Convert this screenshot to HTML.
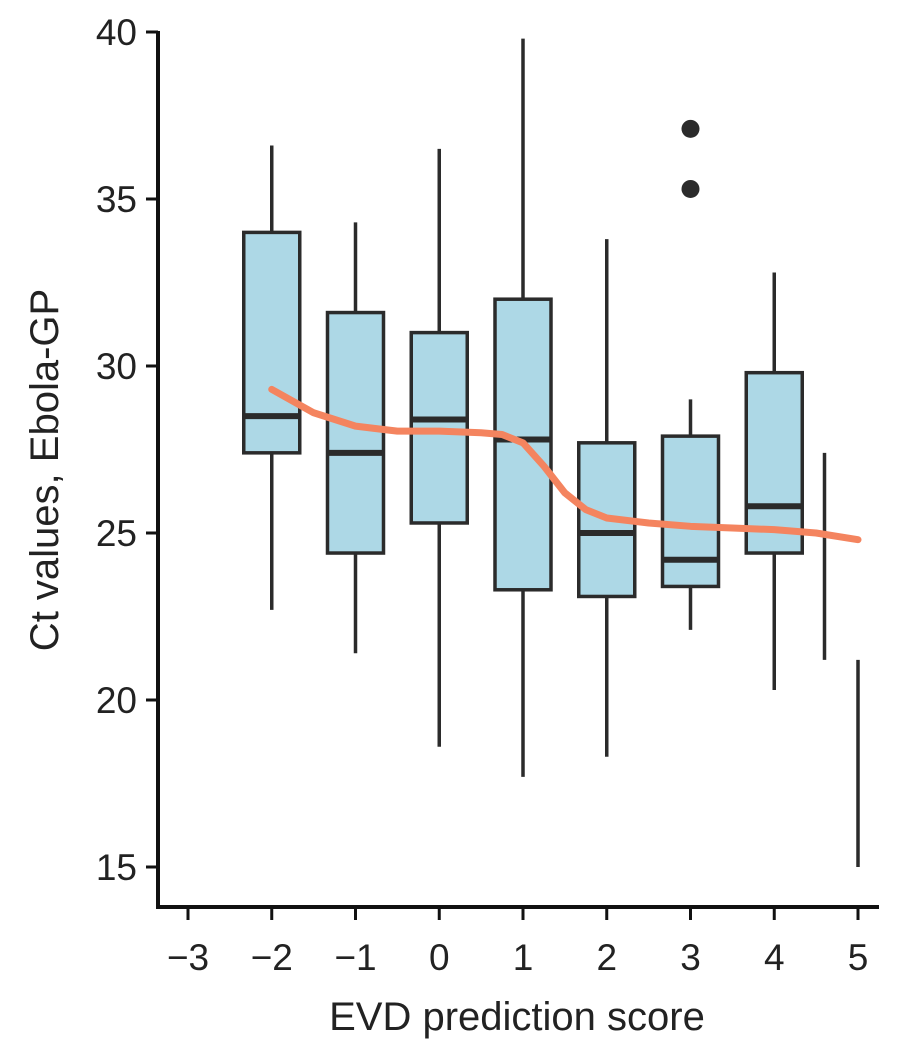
<!DOCTYPE html>
<html><head><meta charset="utf-8"><style>
body{margin:0;background:#fff}
svg text{font-family:"Liberation Sans",sans-serif;fill:#222}
</style></head><body>
<svg id="chart" width="900" height="1049" viewBox="0 0 900 1049" xmlns="http://www.w3.org/2000/svg">
<g id="plot"></g>
</svg>
<script>
const categories=[-2,-1,0,1,2,3,4];
const whiskLow=[22.7,21.4,18.6,17.7,18.3,22.1,20.3];
const q1=[27.4,24.4,25.3,23.3,23.1,23.4,24.4];
const medians=[28.5,27.4,28.4,27.8,25.0,24.2,25.8];
const q3=[34.0,31.6,31.0,32.0,27.7,27.9,29.8];
const whiskHigh=[36.6,34.3,36.5,39.8,33.8,29.0,32.8];
const outlierX=[3,3];
const outlierY=[35.3,37.1];
const extraX=[4.6,5];
const extraLow=[21.2,15.0];
const extraHigh=[27.4,21.2];
const trendX=[-2,-1.5,-1,-0.5,0,0.5,0.75,1,1.25,1.5,1.75,2,2.5,3,3.5,4,4.5,5];
const trendY=[29.3,28.6,28.2,28.05,28.05,28.0,27.95,27.7,27.0,26.2,25.7,25.45,25.3,25.2,25.15,25.1,25.0,24.8];
const xTicks=[-3,-2,-1,0,1,2,3,4,5];
const xTickLabels=["\u22123","\u22122","\u22121","0","1","2","3","4","5"];
const yTicks=[15,20,25,30,35,40];

const X=v=>188+(v+3)*83.75;
const Y=v=>867-(v-15)*33.4;
const NS="http://www.w3.org/2000/svg";
const g=document.getElementById('plot');
function mk(t,a,parent){const e=document.createElementNS(NS,t);for(const k in a)e.setAttribute(k,a[k]);(parent||g).appendChild(e);return e;}
const stroke="#2b2b2b";
categories.forEach((c,i)=>{
  const x=X(c),w=56;
  const l=mk('line',{x1:x,x2:x,y1:Y(whiskLow[i]),y2:Y(whiskHigh[i]),stroke:stroke,'stroke-width':3.5});
  
  
  const r=mk('rect',{x:x-w/2,y:Y(q3[i]),width:w,height:Y(q1[i])-Y(q3[i]),fill:'#add8e6',stroke:stroke,'stroke-width':3.5});
  
  
  const m=mk('line',{x1:x-w/2,x2:x+w/2,y1:Y(medians[i]),y2:Y(medians[i]),stroke:stroke,'stroke-width':6});
  
  
});
extraX.forEach((c,i)=>{
  const l=mk('line',{x1:X(c),x2:X(c),y1:Y(extraLow[i]),y2:Y(extraHigh[i]),stroke:stroke,'stroke-width':3.5});
  
  
});
outlierX.forEach((c,i)=>{
  const p=mk('circle',{cx:X(c),cy:Y(outlierY[i]),r:9,fill:stroke});
  
  
});
let d="";trendX.forEach((v,i)=>{d+=(i?"L":"M")+X(v)+","+Y(trendY[i]);});
const tr=mk('path',{d:d,fill:'none',stroke:'#f4845f','stroke-width':7,'stroke-linecap':'round','stroke-linejoin':'round'});


const ya=mk('line',{x1:158,x2:158,y1:31,y2:909,stroke:'#111','stroke-width':4});


const xa=mk('line',{x1:156,x2:879,y1:907,y2:907,stroke:'#111','stroke-width':4});


yTicks.forEach(v=>{
  const t=mk('line',{x1:146,x2:158,y1:Y(v),y2:Y(v),stroke:'#111','stroke-width':3});
  
  
  const tx=mk('text',{x:137,y:Y(v)+13,'text-anchor':'end','font-size':37});
  tx.textContent=v;
  
  
});
xTicks.forEach((v,i)=>{
  const t=mk('line',{x1:X(v),x2:X(v),y1:907,y2:920,stroke:'#111','stroke-width':3});
  
  
  const tx=mk('text',{x:X(v),y:970,'text-anchor':'middle','font-size':37});
  tx.textContent=xTickLabels[i];
  
  
});
const xl=mk('text',{x:517,y:1030,'text-anchor':'middle','font-size':40});
xl.textContent="EVD prediction score";


const yl=mk('text',{x:0,y:0,'text-anchor':'middle','font-size':40,transform:'translate(58,470) rotate(-90)'});
yl.textContent="Ct values, Ebola-GP";


</script>
</body></html>
